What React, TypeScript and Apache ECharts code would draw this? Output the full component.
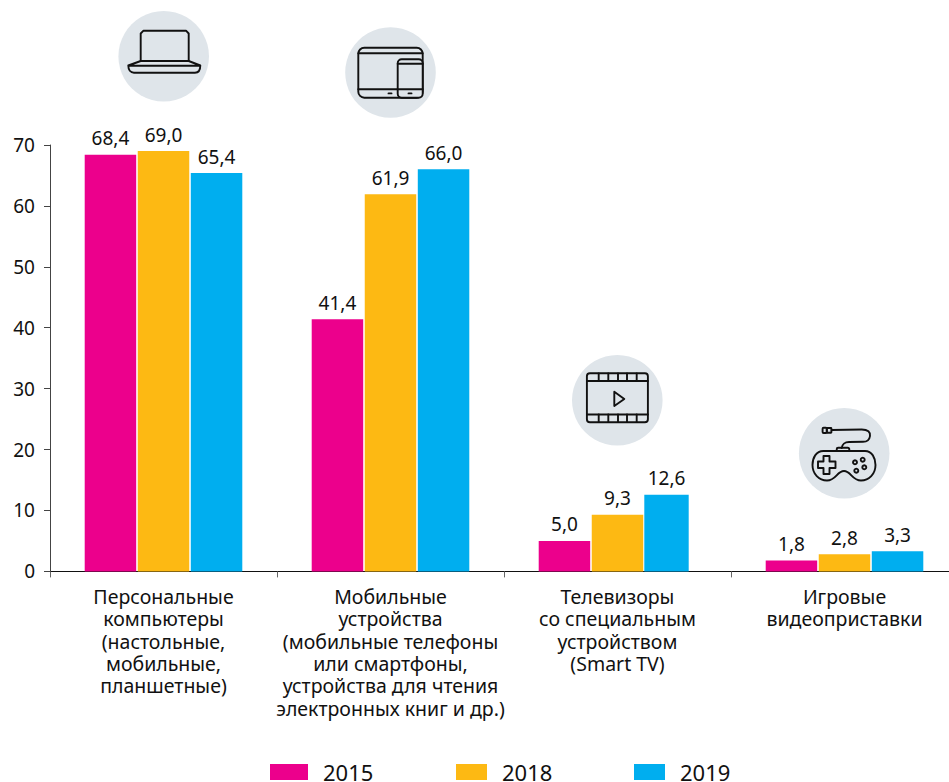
import React, { useEffect, useRef } from "react";
import * as echarts from "echarts";

const categories = [
  "Персональные\nкомпьютеры\n(настольные,\nмобильные,\nпланшетные)",
  "Мобильные\nустройства\n(мобильные телефоны\nили смартфоны,\nустройства для чтения\nэлектронных книг и др.)",
  "Телевизоры\nсо специальным\nустройством\n(Smart TV)",
  "Игровые\nвидеоприставки",
];
const values2015 = [68.4, 41.4, 5.0, 1.8];
const values2018 = [69.0, 61.9, 9.3, 2.8];
const values2019 = [65.4, 66.0, 12.6, 3.3];
const seriesNames = ["2015", "2018", "2019"];
const colors = ["#EC008C", "#FDB913", "#00AEEF"];
const narrowIndex = 2; // the 2019 bar of this category is drawn narrower in the reference
const FONT = "'Noto Sans', 'Open Sans', sans-serif";
const INK = "#111111";
const CIRCLE = "#DFE5EA";

const fmt = (v: number) => Number(v).toFixed(1).replace(".", ",");

const GAMEPAD =
  "M823.3 451 L865 451 C872 451 875.5 458 875.5 465 C875.5 474 869 480.5 861 480.5 C852 480.5 851 471 844 471 C837 471 836 480.5 827 480.5 C819 480.5 812.5 474 812.5 465 C812.5 458 816 451 823.3 451 Z";
const CABLE =
  "M831.7 430 L861.7 429.5 C868 429.5 870.5 432 870 436 C869.5 440 867 441.8 863 441.8 L849 442 C845 442 842 444.5 841.7 448";
const LAPTOP = "M140.7 61 L188.7 61 L200.3 65.5 C200.3 69.5 198.5 72.7 195 72.7 L134 72.7 C130.5 72.7 128.3 69.5 128.3 65.5 Z M128.3 65.7 L200.3 65.7";
echarts.graphic.registerShape("gamepadBody", echarts.graphic.extendPath(GAMEPAD, {}) as any);
echarts.graphic.registerShape("gamepadCable", echarts.graphic.extendPath(CABLE, {}) as any);
echarts.graphic.registerShape("laptopBase", echarts.graphic.extendPath(LAPTOP, {}) as any);

const ln = { stroke: INK, lineWidth: 1.9, fill: "none", lineCap: "round", lineJoin: "round" } as any;
const circle = (cx: number, cy: number, r = 45.3) => ({ type: "circle", shape: { cx, cy, r }, style: { fill: CIRCLE }, silent: true });
const rect = (x: number, y: number, width: number, height: number, r = 0) => ({ type: "rect", shape: { x, y, width, height, r }, style: ln, silent: true });
const line = (x1: number, y1: number, x2: number, y2: number) => ({ type: "line", shape: { x1, y1, x2, y2 }, style: ln, silent: true });
const poly = (points: number[][], closed = false) => ({ type: closed ? "polygon" : "polyline", shape: { points }, style: ln, silent: true });

function icons() {
  const out: any[] = [];
  // laptop
  out.push(circle(163.7, 56.3));
  out.push(poly([[140.7, 61], [140.7, 33.5], [143.5, 30.7], [186, 30.7], [188.7, 33.5], [188.7, 61]]));
  out.push({ type: "laptopBase", x: 0, y: 0, style: ln, silent: true });
  // tablet + phone
  out.push(circle(390.5, 72.5));
  out.push(rect(358.3, 47.7, 64.4, 50, 6));
  out.push(line(358.3, 53.3, 422.7, 53.3));
  out.push(line(358.3, 89.3, 397.7, 89.3));
  out.push({ type: "rect", shape: { x: 397.7, y: 59.3, width: 25, height: 38.4, r: 4 }, style: { ...ln, fill: CIRCLE }, silent: true });
  out.push(line(397.7, 63.8, 422.7, 63.8));
  out.push(line(397.7, 89.3, 422.7, 89.3));
  out.push(line(388.5, 93.4, 391.5, 93.4));
  out.push(line(408.5, 93.4, 411.5, 93.4));
  // film
  out.push(circle(617.3, 400.3));
  out.push(rect(586.9, 373.3, 61, 49, 3));
  out.push(line(586.9, 381, 647.9, 381));
  out.push(line(586.9, 414.5, 647.9, 414.5));
  for (const x of [598.7, 608.3, 618, 627, 636.7]) {
    out.push(line(x, 373.5, x, 381));
    out.push(line(x, 414.5, x, 422));
  }
  out.push(poly([[614.3, 391.7], [624.3, 399], [614.3, 406]], true));
  // gamepad
  out.push(circle(844.2, 453.3));
  out.push(rect(822.6, 427.8, 4.2, 5.2, 1));
  out.push(rect(826.8, 428, 4.6, 4.8, 0.5));
  out.push({ type: "gamepadCable", x: 0, y: 0, style: ln, silent: true });
  out.push(rect(836.7, 447.8, 12.6, 3.2, 1.5));
  out.push({ type: "gamepadBody", x: 0, y: 0, style: ln, silent: true });
  out.push(
    poly(
      [[823.5, 456], [829.5, 456], [829.5, 461.5], [835.5, 461.5], [835.5, 468], [829.5, 468], [829.5, 474], [823.5, 474], [823.5, 468], [818, 468], [818, 461.5], [823.5, 461.5]],
      true
    )
  );
  for (const [cx, cy] of [[862.7, 459.7], [855, 462.3], [864.3, 467.3], [856.3, 470.7]]) {
    out.push({ type: "circle", shape: { cx, cy, r: 2 }, style: ln, silent: true });
  }
  return out;
}

const legendAt = (name: string, left: number, width: number) => ({
  show: true,
  data: [{ name, icon: "rect" }],
  left,
  top: 761,
  itemWidth: width,
  itemHeight: 16,
  itemGap: 0,
  padding: 0,
  selectedMode: false,
  textStyle: { fontFamily: FONT, fontSize: 22, lineHeight: 16, color: INK, padding: [0, 0, 0, 10] },
});

const label = {
  show: true,
  position: "top",
  distance: 7,
  fontFamily: FONT,
  fontSize: 19,
  color: INK,
  formatter: (p: any) => fmt(p.value),
};

export default function App() {
  const ref = useRef<HTMLDivElement>(null);
  useEffect(() => {
    document.body.style.margin = "0";
    const chart = echarts.init(ref.current!, undefined, { renderer: "svg" });
    const bar = (name: string, data: (number | null)[], color: string) => ({
      name,
      type: "bar",
      data,
      barWidth: 51.5,
      barGap: "3%",
      itemStyle: { color },
      label,
    });
    chart.setOption({
      animation: false,
      backgroundColor: "#fff",
      grid: { left: 50, top: 145, width: 908, height: 426.4, containLabel: false },
      legend: [legendAt(seriesNames[0], 270, 38), legendAt(seriesNames[1], 456, 31), legendAt(seriesNames[2], 634, 31)],
      xAxis: {
        type: "category",
        data: categories,
        axisLine: { lineStyle: { color: INK, width: 1 } },
        axisTick: { show: true, alignWithLabel: false, length: 6, lineStyle: { color: "#666" } },
        axisLabel: { interval: 0, margin: 14, fontFamily: FONT, fontSize: 19.5, lineHeight: 22.3, color: INK, align: "center", verticalAlign: "top" },
      },
      yAxis: {
        type: "value",
        min: 0,
        max: 70,
        interval: 10,
        splitLine: { show: false },
        axisLine: { show: true, lineStyle: { color: "#444", width: 1 } },
        axisTick: { show: true, length: 6, lineStyle: { color: "#444" } },
        axisLabel: { margin: 15, fontFamily: FONT, fontSize: 19, color: INK },
      },
      series: [
        bar(seriesNames[0], values2015, colors[0]),
        bar(seriesNames[1], values2018, colors[1]),
        bar(seriesNames[2], values2019.map((v, i) => (i === narrowIndex ? null : v)), colors[2]),
        {
          name: "narrow",
          type: "custom",
          coordinateSystem: "cartesian2d",
          encode: { x: 0, y: 1 },
          data: [[narrowIndex, values2019[narrowIndex]]],
          renderItem: (_: any, api: any) => {
            const top = api.coord([api.value(0), api.value(1)]);
            const base = api.coord([api.value(0), 0]);
            const x = top[0] + 26.8;
            const w = 44.4;
            return {
              type: "group",
              children: [
                { type: "rect", shape: { x, y: top[1], width: w, height: base[1] - top[1] }, style: { fill: colors[2] } },
                {
                  type: "text",
                  style: {
                    text: fmt(api.value(1)),
                    x: x + w / 2,
                    y: top[1] - 7,
                    align: "center",
                    verticalAlign: "bottom",
                    fontFamily: FONT,
                    fontSize: 19,
                    fill: INK,
                  },
                },
              ],
            };
          },
        },
      ],
      graphic: { elements: icons() },
    });
    return () => chart.dispose();
  }, []);
  return (
    <div style={{ width: 949, height: 782, overflow: "hidden" }}>
      <div ref={ref} style={{ width: 958, height: 782 }} />
    </div>
  );
}
